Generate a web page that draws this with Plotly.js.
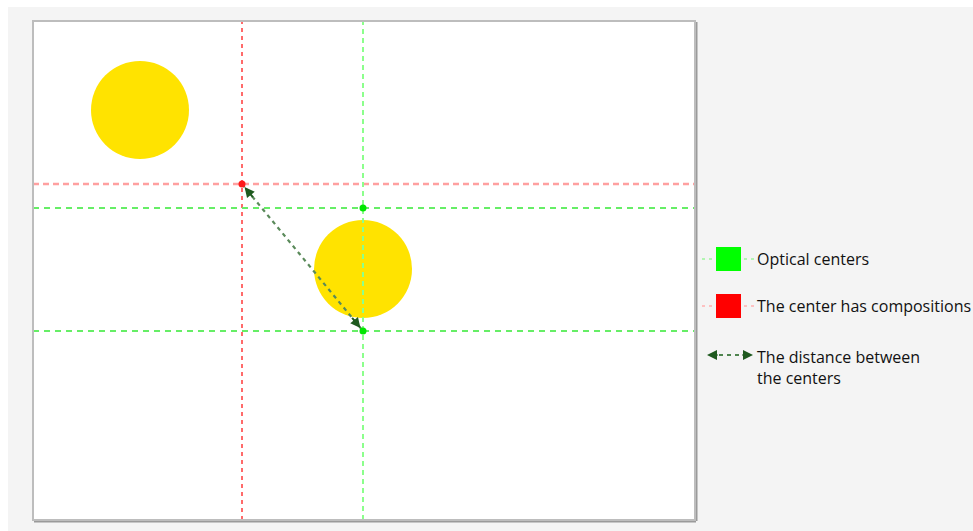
<!DOCTYPE html>
<html>
<head>
<meta charset="utf-8">
<script src="https://cdn.plot.ly/plotly-3.0.1.min.js"></script>
<style>
  html, body { margin: 0; padding: 0; background: #ffffff; width: 973px; height: 531px; overflow: hidden; }
  #chart { position: absolute; left: 8px; top: 7px; width: 965px; height: 524px; }
</style>
</head>
<body>
<div id="chart"></div>
<script>
// ---- data (scene units, origin bottom-left of the frame) ----
const frameX = [0, 662];
const frameY = [0, 499];
const circleX = [107, 330];
const circleY = [410, 251];
const circleR = [49, 49];
const opticalX = [330, 330];
const opticalY = [312, 189];
const compX = [209];
const compY = [336];
const legendLabels = ["Optical centers", "The center has compositions", "The distance between<br>the centers"];

// ---- helpers: absolute page pixel -> paper fraction ----
const L = 33, T = 21, W = 662, H = 499;
const px = a => (a - L) / W;
const py = a => (T + H - a) / H;

const traces = [];
// red dashed guide lines through the composition center
traces.push({x: [compX[0], compX[0]], y: frameY, mode: 'lines', line: {color: '#ff6a6a', width: 2, dash: '4px,4px'}, hoverinfo: 'skip'});
traces.push({x: frameX, y: [compY[0], compY[0]], mode: 'lines', line: {color: '#ffa0a0', width: 2.4, dash: '6px,4px'}, hoverinfo: 'skip'});
// green dashed guide lines through optical centers
traces.push({x: [opticalX[0], opticalX[0]], y: frameY, mode: 'lines', line: {color: '#8cff8c', width: 2, dash: '5px,4px'}, hoverinfo: 'skip'});
opticalY.forEach(v => traces.push({x: frameX, y: [v, v], mode: 'lines', line: {color: '#66ee66', width: 1.8, dash: '6px,5px'}, hoverinfo: 'skip'}));
// distance arrow line
const ax0 = compX[0], ay0 = compY[0], ax1 = opticalX[1], ay1 = opticalY[1];
traces.push({x: [ax0, ax1], y: [ay0, ay1], mode: 'lines', line: {color: '#5a8a5a', width: 2.2, dash: '4px,4px'}, hoverinfo: 'skip'});
// center points
traces.push({x: opticalX, y: opticalY, mode: 'markers', marker: {color: '#00e600', size: 7}, hoverinfo: 'skip'});
traces.push({x: compX, y: compY, mode: 'markers', marker: {color: '#ff1a1a', size: 7}, hoverinfo: 'skip'});

const shapes = [];
circleX.forEach((cx, i) => {
  shapes.push({type: 'circle', xref: 'x', yref: 'y', x0: cx - circleR[i], x1: cx + circleR[i], y0: circleY[i] - circleR[i], y1: circleY[i] + circleR[i], fillcolor: '#ffe300', line: {width: 0}, layer: 'below'});
});
// frame with shadow
shapes.push({type: 'line', xref: 'paper', yref: 'paper', x0: px(L+1), x1: px(L+W+1), y0: py(T+H+1), y1: py(T+H+1), line: {color: '#9a9a9a', width: 3}});
shapes.push({type: 'line', xref: 'paper', yref: 'paper', x0: px(L+W+1), x1: px(L+W+1), y0: py(T+1), y1: py(T+H+1), line: {color: '#9a9a9a', width: 3}});
shapes.push({type: 'rect', xref: 'paper', yref: 'paper', x0: 0, x1: 1, y0: 0, y1: 1, line: {color: '#bdbdbd', width: 2}});

// legend (drawn manually)
const rowY = [259, 306];
const rowCol = [['#00ff00', '#9cf59c'], ['#ff0000', '#ffb0b0']];
rowY.forEach((yy, i) => {
  shapes.push({type: 'line', xref: 'paper', yref: 'paper', x0: px(702), x1: px(754), y0: py(yy), y1: py(yy), line: {color: rowCol[i][1], width: 1.5, dash: '3px,4px'}});
  shapes.push({type: 'rect', xref: 'paper', yref: 'paper', x0: px(716), x1: px(741), y0: py(yy + 12), y1: py(yy - 12), fillcolor: rowCol[i][0], line: {width: 0}});
});
shapes.push({type: 'line', xref: 'paper', yref: 'paper', x0: px(711), x1: px(749), y0: py(355), y1: py(355), line: {color: '#4f844f', width: 2, dash: '4px,4px'}});

const fnt = {family: 'Open Sans, Noto Sans, sans-serif', size: 16, color: '#111111'};
const annotations = [
  {xref: 'paper', yref: 'paper', x: px(755), y: py(259), xanchor: 'left', yanchor: 'middle', text: legendLabels[0], showarrow: false, font: fnt},
  {xref: 'paper', yref: 'paper', x: px(755), y: py(306), xanchor: 'left', yanchor: 'middle', text: legendLabels[1], showarrow: false, font: fnt},
  {xref: 'paper', yref: 'paper', x: px(755), y: py(344), xanchor: 'left', yanchor: 'top', align: 'left', text: legendLabels[2], showarrow: false, font: fnt},
  // legend arrow heads
  {xref: 'paper', yref: 'paper', x: px(707), y: py(355), ax: 12, ay: 0, text: '', showarrow: true, arrowhead: 2, arrowsize: 1, arrowwidth: 2, arrowcolor: '#1f5a1f'},
  {xref: 'paper', yref: 'paper', x: px(753), y: py(355), ax: -12, ay: 0, text: '', showarrow: true, arrowhead: 2, arrowsize: 1, arrowwidth: 2, arrowcolor: '#1f5a1f'},
  // distance arrow heads
  {xref: 'x', yref: 'y', axref: 'x', ayref: 'y', x: ax0, y: ay0, ax: ax0 + 0.1 * (ax1 - ax0), ay: ay0 + 0.1 * (ay1 - ay0), text: '', showarrow: true, arrowhead: 2, arrowsize: 1, arrowwidth: 2, standoff: 4, arrowcolor: '#1f5a1f'},
  {xref: 'x', yref: 'y', axref: 'x', ayref: 'y', x: ax1, y: ay1, ax: ax1 + 0.1 * (ax0 - ax1), ay: ay1 + 0.1 * (ay0 - ay1), text: '', showarrow: true, arrowhead: 2, arrowsize: 1, arrowwidth: 2, standoff: 4, arrowcolor: '#1f5a1f'}
];

const layout = {
  width: 965, height: 524,
  margin: {l: 25, t: 14, r: 965 - 25 - 662, b: 524 - 14 - 499, pad: 0},
  paper_bgcolor: '#f4f4f4', plot_bgcolor: '#ffffff',
  showlegend: false,
  xaxis: {range: frameX, visible: false, fixedrange: true},
  yaxis: {range: frameY, visible: false, fixedrange: true},
  shapes: shapes,
  annotations: annotations,
  hovermode: false
};
Plotly.newPlot('chart', traces, layout, {displayModeBar: false, staticPlot: true});
</script>
</body>
</html>
